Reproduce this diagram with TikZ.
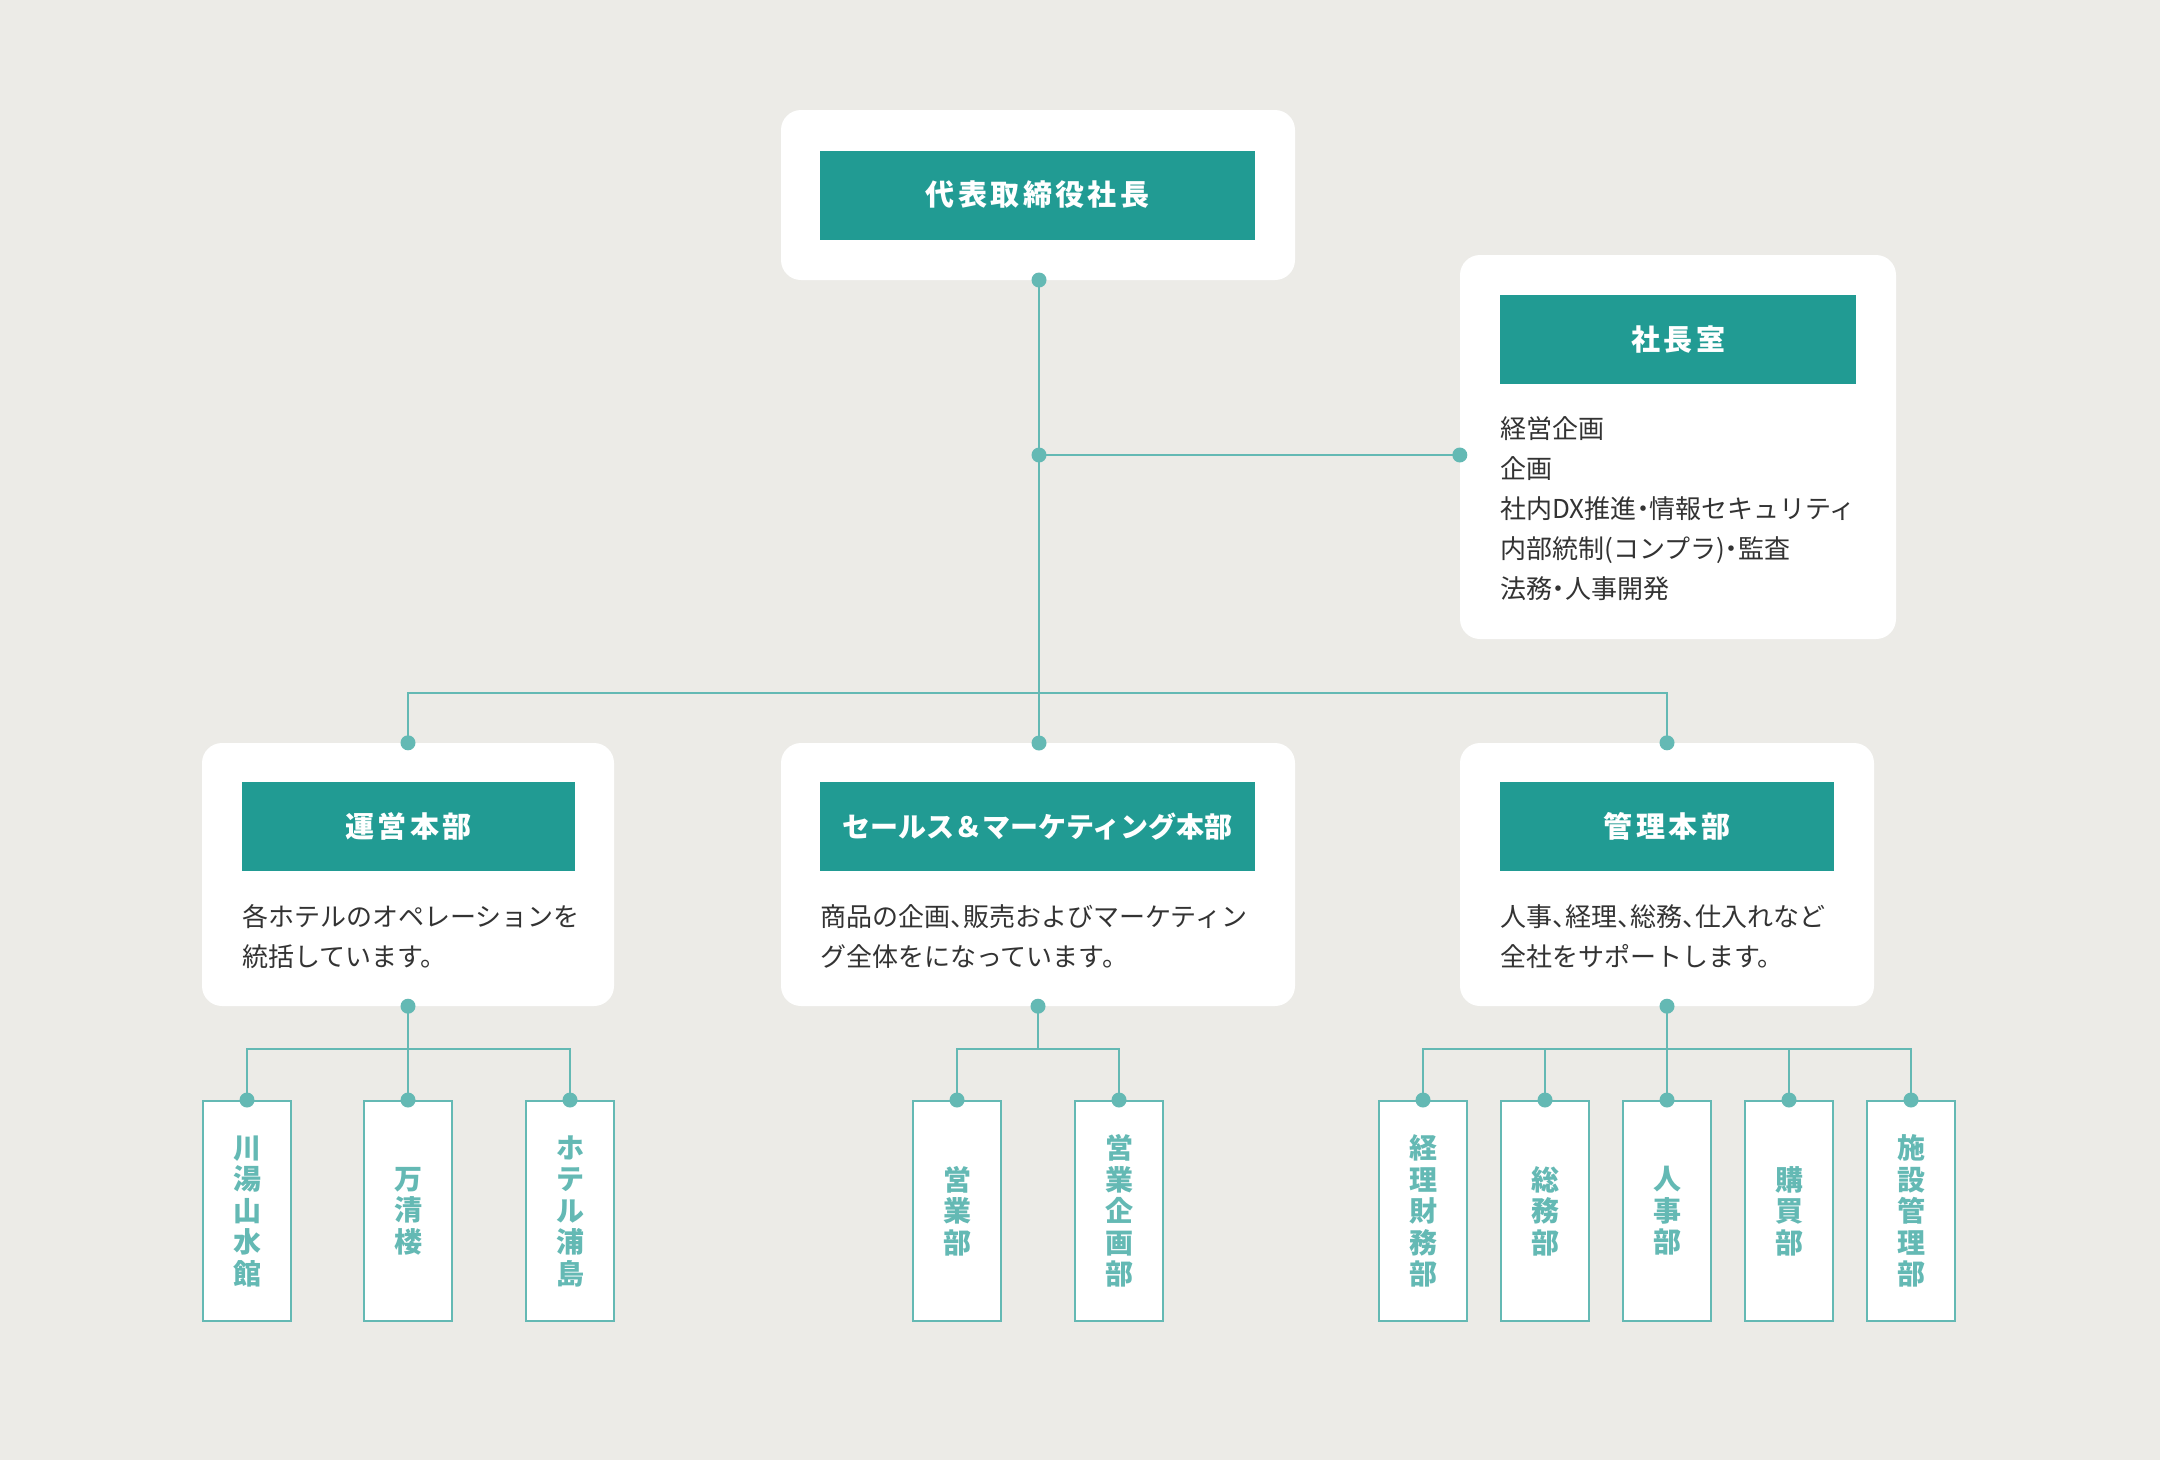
\documentclass[tikz,border=0pt]{standalone}
\usepackage{fontspec}
\setmainfont{Noto Sans CJK JP}
\newfontfamily\headspaced[LetterSpace=12]{Noto Sans CJK JP}
\newcommand{\hw}[1]{{\addfontfeature{RawFeature=+halt}#1}}
\definecolor{bg}{HTML}{ECEBE7}
\definecolor{tealhead}{HTML}{219B93}
\definecolor{linec}{HTML}{64B9B4}
\definecolor{txt}{HTML}{333333}
\begin{document}
\begin{tikzpicture}[x=1pt,y=-1pt,
  card/.style={fill=white, rounded corners=20pt, inner sep=0pt, draw=none},
  head/.style={fill=tealhead, text=white, inner sep=0pt, minimum height=89pt, font=\headspaced\fontsize{29}{34}\selectfont\bfseries},
  headk/.style={fill=tealhead, text=white, inner sep=0pt, minimum height=89pt, font=\fontsize{28}{34}\selectfont\bfseries},
  body/.style={anchor=north west, inner sep=0pt, align=left, text=txt, font=\fontsize{26}{40}\selectfont},
  leaf/.style={draw=linec, line width=2pt, fill=white, minimum width=88pt, minimum height=220pt, inner sep=0pt, align=center, text=linec, font=\fontsize{28}{31.5}\selectfont\bfseries},
  conn/.style={draw=linec, line width=2pt},
  dot/.style={fill=linec}
]
\fill[bg] (0,0) rectangle (2160,1460);
\useasboundingbox (0,0) rectangle (2160,1460);

% top
\node[card, minimum width=514pt, minimum height=170pt] (ceo) at (1038,195) {};
\node[head, minimum width=435pt] (ceoh) at (1037.5,195) {代表取締役社長};

% president office
\node[card, minimum width=436pt, minimum height=384pt] (pres) at (1678,447) {};
\node[head, minimum width=356pt] (presh) at (1678,339) {社長室};
\node[body] (prest) at (1500,416) {経営企画\\企画\\社内DX推進\hw{・}情報セキュリティ\\内部統制(コンプラ)\hw{・}監査\\法務\hw{・}人事開発};

% level 2
\node[card, minimum width=412pt, minimum height=263pt] (ops) at (408,874.5) {};
\node[head, minimum width=333pt] (opsh) at (408.5,826.5) {運営本部};
\node[body] (opst) at (242,904) {各ホテルのオペレーションを\\統括しています。};

\node[card, minimum width=514pt, minimum height=263pt] (mkt) at (1038,874.5) {};
\node[headk, minimum width=435pt] (mkth) at (1037.5,826.5) {セールス＆マーケティング本部};
\node[body] (mktt) at (820,904) {商品の企画\hw{、}販売およびマーケティン\\グ全体をになっています。};

\node[card, minimum width=414pt, minimum height=263pt] (adm) at (1667,874.5) {};
\node[head, minimum width=334pt] (admh) at (1667,826.5) {管理本部};
\node[body] (admt) at (1500,904) {人事\hw{、}経理\hw{、}総務\hw{、}仕入れなど\\全社をサポートします。};

% leaves
\node[leaf] (l1) at (247,1211) {川\\湯\\山\\水\\館};
\node[leaf] (l2) at (408,1211) {万\\清\\楼};
\node[leaf] (l3) at (570,1211) {ホ\\テ\\ル\\浦\\島};

\node[leaf] (m1) at (957,1211) {営\\業\\部};
\node[leaf] (m2) at (1119,1211) {営\\業\\企\\画\\部};

\node[leaf] (r1) at (1423,1211) {経\\理\\財\\務\\部};
\node[leaf] (r2) at (1545,1211) {総\\務\\部};
\node[leaf] (r3) at (1667,1211) {人\\事\\部};
\node[leaf] (r4) at (1789,1211) {購\\買\\部};
\node[leaf] (r5) at (1911,1211) {施\\設\\管\\理\\部};

% connectors
\coordinate (j) at (1039,455);
\coordinate (ct) at (1039,280);
\coordinate (cb) at (1039,743);
\draw[conn] (ct) -- (cb);
\draw[conn] (j) -- (j -| pres.west);
\draw[conn] (ops.north) -- ++(0,-50) -| (adm.north);

\draw[conn] (ops.south) -- (l2.north);
\draw[conn] (l1.north) -- ++(0,-51) -| (l3.north);

\draw[conn] (mkt.south) -- ++(0,44);
\draw[conn] (m1.north) -- ++(0,-51) -| (m2.north);

\draw[conn] (adm.south) -- (r3.north);
\draw[conn] (r1.north) -- ++(0,-51) -| (r5.north);
\draw[conn] (r2.north) -- ++(0,-51);
\draw[conn] (r4.north) -- ++(0,-51);

% dots
\foreach \p in {ct, j, pres.west |- j, ops.north, cb, adm.north, ops.south, mkt.south, adm.south, l1.north, l2.north, l3.north, m1.north, m2.north, r1.north, r2.north, r3.north, r4.north, r5.north}
  \fill[dot] (\p) circle (7.5pt);
\end{tikzpicture}
\end{document}
